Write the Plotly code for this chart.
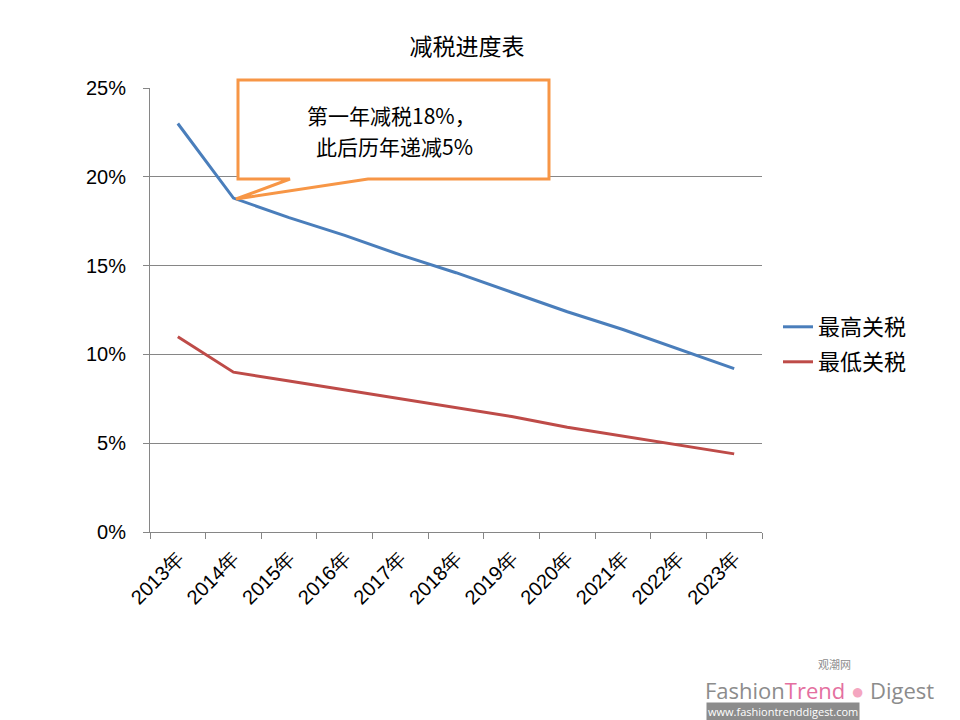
import plotly.graph_objects as go

years = ["2013年", "2014年", "2015年", "2016年", "2017年", "2018年",
         "2019年", "2020年", "2021年", "2022年", "2023年"]
high_tax = [0.230, 0.188, 0.177, 0.167, 0.156, 0.146, 0.135, 0.124, 0.114, 0.103, 0.092]
low_tax = [0.110, 0.090, 0.085, 0.080, 0.075, 0.070, 0.065, 0.059, 0.054, 0.049, 0.044]
y_ticks = [0, 0.05, 0.10, 0.15, 0.20, 0.25]
y_labels = ["0%", "5%", "10%", "15%", "20%", "25%"]

FONT = "Noto Sans CJK SC"
W, H = 960, 720
L, R, T, B = 150, 198, 88, 188

fig = go.Figure()
fig.add_trace(go.Scatter(x=years, y=high_tax, mode="lines", name="最高关税",
                         line=dict(color="#4A7EBB", width=3), legend="legend"))
fig.add_trace(go.Scatter(x=years, y=low_tax, mode="lines", name="最低关税",
                         line=dict(color="#BE4B48", width=3), legend="legend2"))

def px(x):
    return (x - L) / (W - L - R)

def py(y):
    return (H - B - y) / (H - T - B)

# callout box with pointer (paper coords)
pts = [(238, 80), (549, 80), (549, 179), (368, 179), (236, 199), (290, 179), (238, 179)]
path = "M " + " L ".join(f"{px(x):.5f},{py(y):.5f}" for x, y in pts) + " Z"
fig.add_shape(type="path", xref="paper", yref="paper", path=path,
              line=dict(color="#F79646", width=3), fillcolor="rgba(255,255,255,1)")

fig.add_annotation(xref="paper", yref="paper", x=px(391), y=py(115),
                   xanchor="center", yanchor="middle",
                   text="第一年减税18%，", showarrow=False,
                   font=dict(family=FONT, size=21, color="#000000"))
fig.add_annotation(xref="paper", yref="paper", x=px(394), y=py(146),
                   xanchor="center", yanchor="middle",
                   text="此后历年递减5%", showarrow=False,
                   font=dict(family=FONT, size=21, color="#000000"))

# watermark
fig.add_annotation(xref="paper", yref="paper", x=px(834), y=py(664),
                   xanchor="center", yanchor="middle",
                   text="观潮网", showarrow=False,
                   font=dict(family=FONT, size=11, color="#8c8c8c"))
fig.add_annotation(xref="paper", yref="paper", x=px(703), y=py(690),
                   xanchor="left", yanchor="middle",
                   text="<span style='color:#8c8c8c'>Fashion</span><span style='color:#E46FA0'>Trend</span>"
                        "<span style='color:#F4A6C0'> ● </span><span style='color:#8c8c8c'>Digest</span>",
                   showarrow=False, font=dict(family="Open Sans", size=22))
fig.add_annotation(xref="paper", yref="paper", x=px(706), y=py(711),
                   xanchor="left", yanchor="middle",
                   text="www.fashiontrenddigest.com", showarrow=False, bgcolor="#8c8c8c",
                   font=dict(family="Open Sans", size=11, color="#ffffff"), borderpad=1)

legend_common = dict(xanchor="left", yanchor="middle",
                     font=dict(family=FONT, size=22), bgcolor="rgba(0,0,0,0)",
                     itemwidth=30)
fig.update_layout(
    width=W, height=H,
    margin=dict(l=L, r=R, t=T, b=B),
    paper_bgcolor="white", plot_bgcolor="white",
    title=dict(text="减税进度表", x=467 / W, xanchor="center", y=1 - 47 / H, yanchor="middle",
               font=dict(family=FONT, size=23, color="#000000")),
    font=dict(family=FONT, size=18, color="#000000"),
    legend=dict(x=px(778), y=py(327), **legend_common),
    legend2=dict(x=px(778), y=py(362), **legend_common),
    showlegend=True,
)
fig.update_xaxes(type="category", range=[-0.5, 10.5], showgrid=False,
                 showline=True, linecolor="#868686", linewidth=1,
                 ticks="outside", tickson="boundaries", ticklen=6, tickcolor="#868686",
                 tickangle=-45, ticklabelstandoff=6,
                 tickfont=dict(family="Liberation Sans", size=20))
fig.update_yaxes(range=[0, 0.25], tickvals=y_ticks, ticktext=y_labels,
                 showgrid=True, gridcolor="#868686", gridwidth=1,
                 showline=True, linecolor="#868686", linewidth=1,
                 ticks="outside", ticklen=6, tickcolor="#868686", ticklabelstandoff=13,
                 zeroline=False, tickfont=dict(family="Liberation Sans", size=20))

fig.write_html("out.html")
